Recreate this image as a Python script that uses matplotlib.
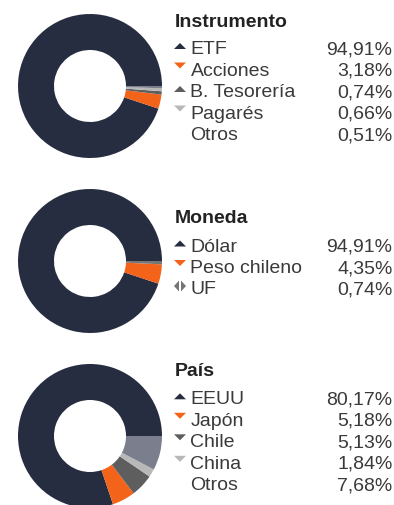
import matplotlib
matplotlib.use("Agg")
import matplotlib.pyplot as plt
from matplotlib.patches import Polygon

plt.rcParams['font.family'] = ['Liberation Sans', 'DejaVu Sans']

# Portfolio breakdowns (percent)
instrumento_labels = ["ETF", "Acciones", "B. Tesorería", "Pagarés", "Otros"]
instrumento_values = [94.91, 3.18, 0.74, 0.66, 0.51]
instrumento_text = ["94,91%", "3,18%", "0,74%", "0,66%", "0,51%"]

moneda_labels = ["Dólar", "Peso chileno", "UF"]
moneda_values = [94.91, 4.35, 0.74]
moneda_text = ["94,91%", "4,35%", "0,74%"]

pais_labels = ["EEUU", "Japón", "Chile", "China", "Otros"]
pais_values = [80.17, 5.18, 5.13, 1.84, 7.68]
pais_text = ["80,17%", "5,18%", "5,13%", "1,84%", "7,68%"]

NAVY = "#272d40"
ORANGE = "#f4631a"
DGRAY = "#5e5e5e"
LGRAY = "#b8b8b8"
BGRAY = "#7b7e8c"
MGRAY = "#767676"

W, H = 394, 506
fig = plt.figure(figsize=(W / 100, H / 100), dpi=100)

# overlay in pixel coordinates for titles and legends
ov = fig.add_axes([0, 0, 1, 1])
ov.set_xlim(0, W)
ov.set_ylim(H, 0)
ov.axis("off")

FS = 14
R = 72


def donut(cx, cy, values, colors):
    ax = fig.add_axes([(cx - R) / W, 1 - (cy + R) / H, 2 * R / W, 2 * R / H])
    ax.pie(values, colors=colors, startangle=0, counterclock=True, radius=1,
           wedgeprops=dict(width=0.5, linewidth=0))
    ax.set_xlim(-1, 1)
    ax.set_ylim(-1, 1)
    ax.set_aspect("auto")
    ax.axis("off")


def marker(kind, x, base, color):
    if kind == "up":
        pts = [(x - 6, base - 4), (x + 6, base - 4), (x, base - 10)]
    elif kind == "down":
        pts = [(x - 6, base - 12), (x + 6, base - 12), (x, base - 6)]
    elif kind == "lr":
        ov.add_patch(Polygon([(x - 1, base - 13), (x - 1, base - 2), (x - 6, base - 7.5)],
                             closed=True, fc=color, ec="none"))
        ov.add_patch(Polygon([(x + 1, base - 13), (x + 1, base - 2), (x + 6, base - 7.5)],
                             closed=True, fc=color, ec="none"))
        return
    else:
        return
    ov.add_patch(Polygon(pts, closed=True, fc=color, ec="none"))


def legend(title, title_base, labels, texts, kinds, colors, first_base, step=21.5):
    ov.text(175, title_base, title, fontsize=FS, fontweight="bold", color="#222222",
            va="baseline", ha="left")
    for i, (lab, txt, k, c) in enumerate(zip(labels, texts, kinds, colors)):
        b = first_base + i * step
        marker(k, 180, b, c)
        ov.text(190.5, b, lab, fontsize=FS, color="#3a3a3a", va="baseline", ha="left")
        ov.text(392.5, b, txt, fontsize=FS, color="#3a3a3a", va="baseline", ha="right")


donut(90, 87, instrumento_values, [NAVY, ORANGE, DGRAY, LGRAY, BGRAY])
legend("Instrumento", 27, instrumento_labels, instrumento_text,
       ["up", "down", "up", "down", None], [NAVY, ORANGE, DGRAY, LGRAY, None], 54)

donut(90, 262, moneda_values, [NAVY, ORANGE, MGRAY])
legend("Moneda", 223, moneda_labels, moneda_text,
       ["up", "down", "lr"], [NAVY, ORANGE, MGRAY], 251.5)

donut(90, 437, pais_values, [NAVY, ORANGE, DGRAY, LGRAY, BGRAY])
legend("País", 376, pais_labels, pais_text,
       ["up", "down", "down", "down", None], [NAVY, ORANGE, DGRAY, LGRAY, None], 404.3)

fig.savefig("out.png", dpi=100)
